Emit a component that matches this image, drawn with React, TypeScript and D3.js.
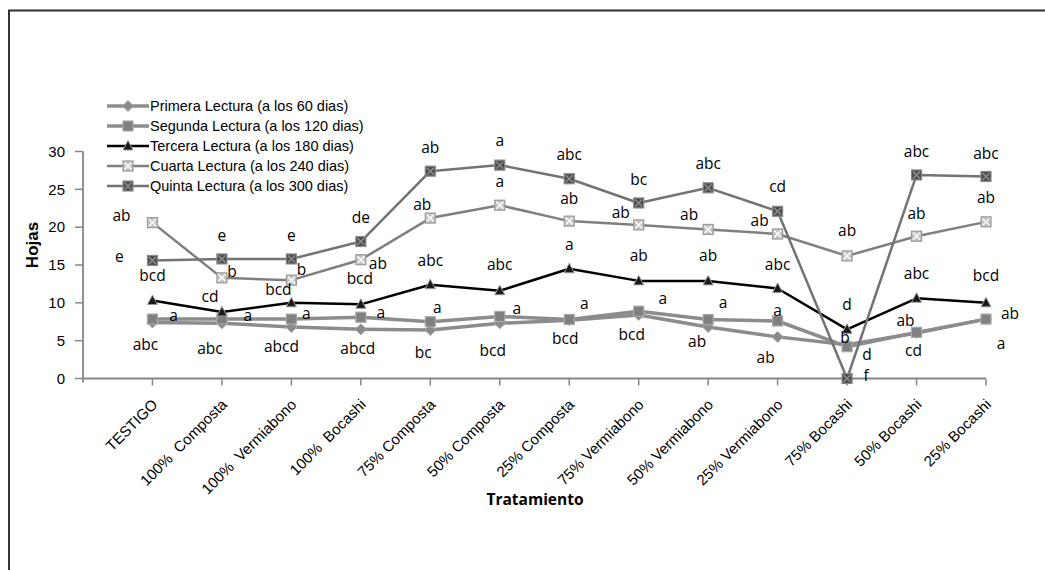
import React from "react";
import * as d3 from "d3";

const categories = [
  "TESTIGO", "100%  Composta", "100%  Vermiabono", "100%  Bocashi",
  "75% Composta", "50% Composta", "25% Composta",
  "75% Vermiabono", "50% Vermiabono", "25% Vermiabono",
  "75% Bocashi", "50% Bocashi", "25% Bocashi",
];

const yTicks = [0, 5, 10, 15, 20, 25, 30];

const primera = [7.4, 7.3, 6.8, 6.5, 6.4, 7.3, 7.7, 8.4, 6.8, 5.5, 4.45, 6.0, 7.85];
const segunda = [7.85, 7.85, 7.85, 8.1, 7.5, 8.2, 7.8, 8.9, 7.8, 7.6, 4.2, 6.1, 7.85];
const tercera = [10.3, 8.8, 10.0, 9.8, 12.4, 11.6, 14.5, 12.9, 12.9, 11.9, 6.5, 10.6, 10.0];
const cuarta = [20.6, 13.3, 13.0, 15.7, 21.2, 22.9, 20.8, 20.3, 19.7, 19.1, 16.2, 18.8, 20.7];
const quinta = [15.6, 15.8, 15.8, 18.1, 27.4, 28.2, 26.4, 23.2, 25.2, 22.1, 0, 26.9, 26.7];

const primeraLetters = ["abc", "abc", "abcd", "abcd", "bc", "bcd", "bcd", "bcd", "ab", "ab", "d", "cd", "a"];
const segundaLetters = ["a", "a", "a", "a", "a", "a", "a", "a", "a", "a", "b", "ab", "ab"];
const terceraLetters = ["bcd", "cd", "bcd", "bcd", "abc", "abc", "a", "ab", "ab", "abc", "d", "abc", "bcd"];
const cuartaLetters = ["ab", "b", "b", "ab", "ab", "a", "ab", "ab", "ab", "ab", "ab", "ab", "ab"];
const quintaLetters = ["e", "e", "e", "de", "ab", "a", "abc", "bc", "abc", "cd", "f", "abc", "abc"];

// annotation placement (pixel offsets of each letter group from its point)
const primeraOffsets = [[-7, 22], [-12, 25], [-10, 20], [-3, 19], [-7, 23], [-7, 27], [-4, 18], [-7, 20], [-11, 15], [-12, 21], [20, 10], [-3, 17], [15, 24]];
const segundaOffsets = [[21, -4], [26, -4], [15, -6], [20, -5], [7, -14], [17, -8], [15, -16], [24, -13], [15, -17], [0, -10], [-2, -9], [-11, -12], [24, -6]];
const terceraOffsets = [[0, -25], [-12, -15], [-13, -13], [-1, -26], [0, -24], [0, -26], [0, -24], [0, -25], [0, -25], [0, -24], [0, -25], [0, -25], [0, -27]];
const cuartaOffsets = [[-31, -7], [10, -6], [10, -11], [17, 4], [-8, -14], [0, -24], [0, -23], [-18, -12], [-19, -15], [-18, -13], [0, -25], [0, -23], [0, -24]];
const quintaOffsets = [[-33, -4], [0, -23], [0, -23], [0, -24], [0, -24], [0, -25], [0, -24], [0, -23], [0, -24], [0, -25], [19, -3], [0, -23], [0, -23]];

type Marker = "diamond" | "square" | "triangle" | "xsquare" | "xsquareDark";

const seriesDefs = [
  { name: "Primera Lectura (a los 60 dias)", values: primera, letters: primeraLetters, offsets: primeraOffsets, line: "#8c8c8c", width: 3.5, marker: "diamond" as Marker },
  { name: "Segunda Lectura (a los 120 dias)", values: segunda, letters: segundaLetters, offsets: segundaOffsets, line: "#8c8c8c", width: 3.5, marker: "square" as Marker },
  { name: "Tercera Lectura (a los 180 dias)", values: tercera, letters: terceraLetters, offsets: terceraOffsets, line: "#000000", width: 2.5, marker: "triangle" as Marker },
  { name: "Cuarta Lectura (a los 240 dias)", values: cuarta, letters: cuartaLetters, offsets: cuartaOffsets, line: "#7f7f7f", width: 2.5, marker: "xsquare" as Marker },
  { name: "Quinta Lectura (a los 300 dias)", values: quinta, letters: quintaLetters, offsets: quintaOffsets, line: "#737373", width: 2.5, marker: "xsquareDark" as Marker },
];

function MarkerShape({ type, x, y }: { type: Marker; x: number; y: number }) {
  switch (type) {
    case "diamond":
      return <path d={`M${x},${y - 5.5}L${x + 5.5},${y}L${x},${y + 5.5}L${x - 5.5},${y}Z`} fill="#8a8a8a" stroke="#a5a5a5" strokeWidth={1} />;
    case "square":
      return <rect x={x - 5} y={y - 5} width={10} height={10} fill="#808080" stroke="#a8a8a8" strokeWidth={1.2} />;
    case "triangle":
      return <path d={`M${x},${y - 5.5}L${x + 5},${y + 4}L${x - 5},${y + 4}Z`} fill="#1a1a1a" stroke="#9a9a9a" strokeWidth={1} />;
    case "xsquare":
      return (
        <g>
          <rect x={x - 5} y={y - 5} width={10} height={10} fill="#c4c4c4" stroke="#9a9a9a" strokeWidth={1.2} />
          <path d={`M${x - 3.5},${y - 3.5}L${x + 3.5},${y + 3.5}M${x + 3.5},${y - 3.5}L${x - 3.5},${y + 3.5}`} stroke="#ffffff" strokeWidth={1.4} />
        </g>
      );
    case "xsquareDark":
      return (
        <g>
          <rect x={x - 5} y={y - 5} width={10} height={10} fill="#4d4d4d" stroke="#8a8a8a" strokeWidth={1.2} />
          <path d={`M${x - 3.5},${y - 3.5}L${x + 3.5},${y + 3.5}M${x + 3.5},${y - 3.5}L${x - 3.5},${y + 3.5}`} stroke="#8f8f8f" strokeWidth={1.4} />
        </g>
      );
  }
  return null;
}

export default function App() {
  const width = 1045;
  const height = 570;
  const x = d3.scaleLinear().domain([-1, categories.length - 1]).range([83, 986]);
  const y = d3.scaleLinear().domain([0, 30]).range([378.5, 151.5]);
  const line = d3.line<number>().x((_, i) => x(i)).y((d) => y(d));
  const axisColor = "#868686";
  const labelFont = "'Open Sans', sans-serif";
  const axisFont = "'Liberation Sans', Arial, sans-serif";

  return (
    <svg width={width} height={height} style={{ position: "absolute", left: 0, top: 0, background: "#fff" }}>
      {/* frame (top and left edges) */}
      <path d={`M9,${height}L9,10.5L${width},10.5`} fill="none" stroke="#333" strokeWidth={2} />

      {/* y axis */}
      <line x1={x(-1)} x2={x(-1)} y1={y(30)} y2={y(0) + 4} stroke={axisColor} strokeWidth={1.8} />
      {yTicks.map((t) => (
        <g key={t}>
          <line x1={x(-1) - 8} x2={x(-1)} y1={y(t)} y2={y(t)} stroke={axisColor} strokeWidth={1.5} />
          <text x={x(-1) - 18} y={y(t)} dy="0.35em" textAnchor="end" fontFamily={axisFont} fontSize={15} fill="#000">{t}</text>
        </g>
      ))}

      {/* x axis */}
      <line x1={x(-1)} x2={x(categories.length - 1)} y1={y(0)} y2={y(0)} stroke={axisColor} strokeWidth={1.8} />
      {categories.map((c, i) => (
        <g key={c}>
          <line x1={x(i)} x2={x(i)} y1={y(0)} y2={y(0) + 7} stroke={axisColor} strokeWidth={1.5} />
          <text
            transform={`translate(${x(i) + 6},${y(0) + 27}) rotate(-45)`}
            textAnchor="end"
            fontFamily={axisFont}
            fontSize={15}
            fill="#000"
            style={{ whiteSpace: "pre" }}
          >
            {c}
          </text>
        </g>
      ))}

      {/* axis titles */}
      <text transform={`translate(38,245) rotate(-90)`} textAnchor="middle" fontFamily={axisFont} fontWeight="bold" fontSize={17} fill="#000">Hojas</text>
      <text x={535} y={500} dy="0.35em" textAnchor="middle" fontFamily={labelFont} fontWeight="bold" fontSize={15.5} fill="#000">Tratamiento</text>

      {/* series lines */}
      {seriesDefs.map((s) => (
        <path key={s.name + "l"} d={line(s.values) || ""} fill="none" stroke={s.line} strokeWidth={s.width} strokeLinejoin="round" />
      ))}
      {/* markers */}
      {seriesDefs.map((s) => (
        <g key={s.name + "m"}>
          {s.values.map((v, i) => (
            <MarkerShape key={i} type={s.marker} x={x(i)} y={y(v)} />
          ))}
        </g>
      ))}

      {/* significance letters */}
      {seriesDefs.map((s) => (
        <g key={s.name + "t"}>
          {s.letters.map((l, i) => (
            <text
              key={i}
              x={x(i) + s.offsets[i][0]}
              y={y(s.values[i]) + s.offsets[i][1]}
              dy="0.35em"
              textAnchor="middle"
              fontFamily={labelFont}
              fontSize={15.5}
              fill="#000"
            >
              {l}
            </text>
          ))}
        </g>
      ))}

      {/* legend */}
      {seriesDefs.map((s, i) => {
        const ly = 106 + i * 20;
        return (
          <g key={s.name + "lg"}>
            <line x1={107} x2={149} y1={ly} y2={ly} stroke={s.line} strokeWidth={s.width} />
            <MarkerShape type={s.marker} x={128} y={ly} />
            <text x={150} y={ly} dy="0.35em" fontFamily={axisFont} fontSize={14.5} fill="#000">{s.name}</text>
          </g>
        );
      })}
    </svg>
  );
}
